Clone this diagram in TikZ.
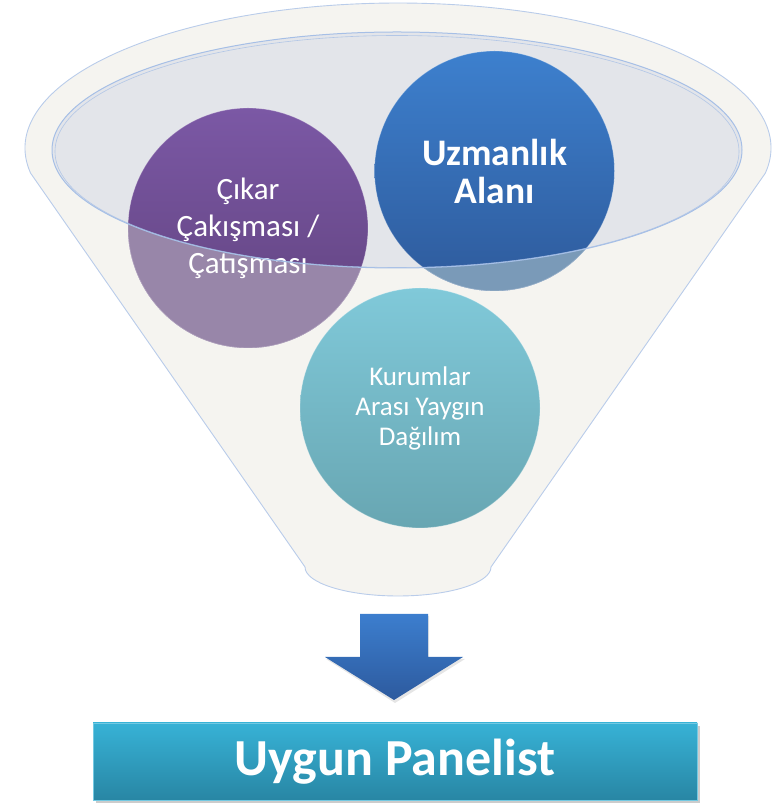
\documentclass[tikz,border=0pt]{standalone}
\usepackage{fontspec}
\setmainfont{Carlito}
\definecolor{funnelfill}{HTML}{F5F4F0}
\definecolor{funnelline}{HTML}{B9CCEA}
\definecolor{rimfill}{HTML}{E3E5EA}
\definecolor{rimline}{HTML}{A6BFE6}
\definecolor{purpTop}{RGB}{123,88,165}
\definecolor{purpBot}{RGB}{96,66,125}
\definecolor{purpWash}{RGB}{152,134,169}
\definecolor{blueTop}{RGB}{61,128,206}
\definecolor{blueBot}{RGB}{46,90,155}
\definecolor{blueWash}{RGB}{122,154,184}
\definecolor{tealTop}{RGB}{128,201,217}
\definecolor{tealBot}{RGB}{104,166,178}
\definecolor{arrTop}{RGB}{60,126,206}
\definecolor{arrBot}{RGB}{45,90,158}
\definecolor{boxTop}{RGB}{55,178,214}
\definecolor{boxBot}{RGB}{40,134,164}
\begin{document}
\begin{tikzpicture}[x=1pt,y=1pt,
  bubble/.style={circle, minimum size=240pt, inner sep=0pt, align=center, text=white,
    draw=white, draw opacity=0.3, line width=0.8pt},
  washed/.style={path picture={\fill[#1, even odd rule]
      ([xshift=-5pt,yshift=-5pt]path picture bounding box.south west) rectangle
      ([xshift=5pt,yshift=5pt]path picture bounding box.north east)
      (rimc) ellipse[x radius=345, y radius=118];}}
]
\useasboundingbox (0,0) rectangle (780,806);
\coordinate (rimc) at (397,656);
% funnel body
\path[fill=funnelfill, draw=funnelline, line width=0.9pt]
  (765.3,632.8) arc[start angle=-10, end angle=190, x radius=373, y radius=145]
  -- (305,239) arc[start angle=180, end angle=360, x radius=93, y radius=29] -- cycle;
% opening
\path[fill=rimfill] (rimc) ellipse[x radius=345, y radius=118];
% circles
\node[bubble, top color=purpTop, bottom color=purpBot, washed=purpWash,
  font=\fontsize{31}{37}\selectfont] (cP) at (248,578) {Çıkar\\Çakışması /\\Çatışması};
\node[bubble, top color=blueTop, bottom color=blueBot, washed=blueWash,
  font=\fontsize{37.5}{38}\selectfont\bfseries] (cB) at (494.5,635) {Uzmanlık\\Alanı};
\node[bubble, top color=tealTop, bottom color=tealBot,
  font=\fontsize{27}{30}\selectfont] (cT) at (420,398) {Kurumlar\\Arası Yaygın\\Dağılım};
% rim outline (double)
\draw[rimline, line width=1pt] (rimc) ellipse[x radius=345, y radius=118];
\draw[rimline, line width=0.6pt, opacity=0.8] ([yshift=-1.5pt]rimc) ellipse[x radius=342, y radius=116];
% arrow
\fill[black, opacity=0.1] (361,190) -- (429,190) -- (429,147) -- (465,147) -- (395,103) -- (326,147) -- (361,147) -- cycle;
\shade[top color=arrTop, bottom color=arrBot]
  (360,192) -- (428,192) -- (428,149) -- (463,149) -- (394,106) -- (325,149) -- (360,149) -- cycle;
% result box
\fill[black, opacity=0.2] (96,3) rectangle (700,80);
\node[draw=boxTop!70!white, line width=0.8pt, top color=boxTop, bottom color=boxBot,
  minimum width=604pt, minimum height=77pt, inner sep=0pt, text=white,
  font=\fontsize{52}{56}\selectfont\bfseries] (box) at (395,44.5) {Uygun Panelist};
\end{tikzpicture}
\end{document}
